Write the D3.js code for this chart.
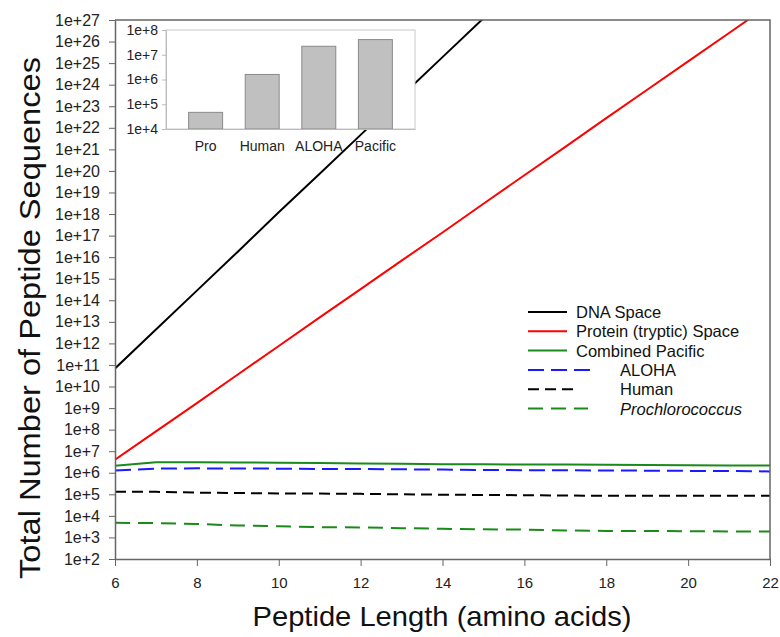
<!DOCTYPE html>
<html>
<head>
<meta charset="utf-8">
<script src="https://cdn.jsdelivr.net/npm/d3@7"></script>
<style>
  html, body { margin: 0; padding: 0; background: #fff; overflow: hidden; }
  svg { display: block; font-family: Arial, "Liberation Sans", sans-serif; }
  .tick text { font-family: Arial, "Liberation Sans", sans-serif; fill: #222; }
  .axis-y .tick text { font-size: 16px; }
  .axis-x .tick text { font-size: 15px; }
  .axis path, .axis line { stroke: #666; }
  .inset .tick text { font-size: 14px; }
  .inset path, .inset line { stroke: #bbb; }
</style>
</head>
<body>
<div id="chart"></div>
<script>
// peptide lengths (amino acids)
const lengths = [6, 7, 8, 9, 10, 11, 12, 13, 14, 15, 16, 17, 18, 19, 20, 21, 22];

// values, one per length
const dnaSpace = [6.9e10, 4.4e12, 2.8e14, 1.8e16, 1.2e18, 7.4e19, 4.7e21, 3.0e23, 1.9e25, 1.2e27];
const proteinSpace = [4.0e6, 8.3e7, 1.7e9, 3.6e10, 7.6e11, 1.6e13, 3.3e14, 6.9e15, 1.4e17, 3.0e18,
    6.3e19, 1.3e21, 2.8e22, 5.8e23, 1.2e25, 2.5e26, 5.2e27];
const combinedPacific = [2.1e6, 3.1e6, 3.1e6, 3.0e6, 2.9e6, 2.8e6, 2.7e6, 2.65e6, 2.5e6, 2.5e6,
    2.4e6, 2.4e6, 2.35e6, 2.3e6, 2.25e6, 2.2e6, 2.15e6];
const aloha = [1.26e6, 1.55e6, 1.6e6, 1.58e6, 1.55e6, 1.5e6, 1.48e6, 1.45e6, 1.4e6, 1.35e6,
    1.32e6, 1.3e6, 1.28e6, 1.25e6, 1.22e6, 1.2e6, 1.15e6];
const human = [1.32e5, 1.3e5, 1.2e5, 1.15e5, 1.1e5, 1.08e5, 1.05e5, 1.0e5, 9.6e4, 9.3e4,
    9.1e4, 8.8e4, 8.5e4, 8.5e4, 8.5e4, 8.5e4, 8.5e4];
const prochlorococcus = [4.8e3, 4.6e3, 4.2e3, 3.6e3, 3.3e3, 3.0e3, 2.9e3, 2.7e3, 2.5e3, 2.4e3,
    2.3e3, 2.1e3, 2.0e3, 2.0e3, 1.95e3, 1.9e3, 1.9e3];

// inset bar chart
const insetCategories = ["Pro", "Human", "ALOHA", "Pacific"];
const insetValues = [4.7e4, 1.6e6, 2.2e7, 4.1e7];

const xTicks = [6, 8, 10, 12, 14, 16, 18, 20, 22];
const yExponents = d3.range(2, 28);
const insetExponents = [4, 5, 6, 7, 8];

const width = 780, height = 637;
const margin = { top: 20, right: 10, bottom: 78, left: 115 };
const innerWidth = width - margin.left - margin.right;
const innerHeight = 559 - margin.top;

const series = [
    { name: "DNA Space", values: dnaSpace, color: "#000", dash: null },
    { name: "Protein (tryptic) Space", values: proteinSpace, color: "#f00", dash: null },
    { name: "Combined Pacific", values: combinedPacific, color: "#1a8a1a", dash: null },
    { name: "ALOHA", values: aloha, color: "#1a1aff", dash: "16,7", legendLen: 66 },
    { name: "Human", values: human, color: "#000", dash: "11,6", legendLen: 47 },
    { name: "Prochlorococcus", values: prochlorococcus, color: "#1a8a1a", dash: "15,8", legendLen: 60, italic: true }
];

const svg = d3.select("#chart")
    .append("svg")
    .attr("width", width)
    .attr("height", height);

const innerChart = svg.append("g")
    .attr("transform", `translate(${margin.left}, ${margin.top})`);

const xScale = d3.scaleLinear().domain([6, 22]).range([0, innerWidth]);
const yScale = d3.scaleLog().domain([1e2, 1e27]).range([innerHeight, 0]);

innerChart.append("clipPath")
    .attr("id", "plot-clip")
    .append("rect")
    .attr("width", innerWidth)
    .attr("height", innerHeight);

// lines
const line = d3.line()
    .x((d, i) => xScale(lengths[i]))
    .y(d => yScale(d));

innerChart.append("g")
    .attr("clip-path", "url(#plot-clip)")
    .selectAll("path")
    .data(series)
    .join("path")
    .attr("d", d => line(d.values))
    .attr("fill", "none")
    .attr("stroke", d => d.color)
    .attr("stroke-width", 2)
    .attr("stroke-dasharray", d => d.dash);

// frame (top and right)
innerChart.append("path")
    .attr("d", `M0,0H${innerWidth}V${innerHeight}`)
    .attr("fill", "none")
    .attr("stroke", "#666")
    .attr("stroke-width", 1.5);

// axes
const bottomAxis = d3.axisBottom(xScale)
    .tickValues(xTicks)
    .tickSize(7)
    .tickPadding(11)
    .tickSizeOuter(0);
innerChart.append("g")
    .attr("class", "axis axis-x")
    .attr("transform", `translate(0, ${innerHeight})`)
    .call(bottomAxis);

const leftAxis = d3.axisLeft(yScale)
    .tickValues(yExponents.map(e => Math.pow(10, e)))
    .tickFormat(d => "1e+" + Math.round(Math.log10(d)))
    .tickSize(6)
    .tickPadding(9)
    .tickSizeOuter(0);
innerChart.append("g")
    .attr("class", "axis axis-y")
    .call(leftAxis);

svg.selectAll(".axis .domain").attr("stroke-width", 1.5);

// axis titles
svg.append("text")
    .text("Peptide Length (amino acids)")
    .attr("x", 442)
    .attr("y", 626)
    .attr("text-anchor", "middle")
    .attr("font-size", 28)
    .attr("textLength", 379)
    .attr("lengthAdjust", "spacingAndGlyphs")
    .attr("fill", "#111");

svg.append("text")
    .text("Total Number of Peptide Sequences")
    .attr("transform", "translate(40, 318) rotate(-90)")
    .attr("text-anchor", "middle")
    .attr("font-size", 29)
    .attr("textLength", 522)
    .attr("lengthAdjust", "spacingAndGlyphs")
    .attr("fill", "#111");

// legend
const legend = svg.append("g")
    .attr("transform", "translate(528, 312)");

series.forEach((s, i) => {
    const g = legend.append("g").attr("transform", `translate(0, ${i * 19.3})`);
    g.append("line")
        .attr("x1", 0)
        .attr("x2", s.dash ? s.legendLen : 39)
        .attr("stroke", s.color)
        .attr("stroke-width", 2)
        .attr("stroke-dasharray", s.dash);
    g.append("text")
        .attr("x", s.dash ? 92 : 48)
        .attr("y", 6)
        .attr("font-size", 16.5)
        .attr("font-style", s.italic ? "italic" : null)
        .attr("fill", "#111")
        .text(s.name);
});

// inset bar chart
const inset = svg.append("g")
    .attr("class", "inset")
    .attr("transform", "translate(166, 30)");
const insetW = 249, insetH = 99;

const xInset = d3.scaleBand()
    .domain(insetCategories)
    .range([0, insetW])
    .paddingInner(0.4)
    .paddingOuter(0.4);
const yInset = d3.scaleLog().domain([1e4, 1e8]).range([insetH, 0]);

inset.append("rect")
    .attr("width", insetW)
    .attr("height", insetH)
    .attr("fill", "#fff")
    .attr("stroke", "#c8c8c8");

inset.selectAll(".bar")
    .data(insetValues)
    .join("rect")
    .attr("class", "bar")
    .attr("x", (d, i) => xInset(insetCategories[i]))
    .attr("y", d => yInset(d))
    .attr("width", xInset.bandwidth())
    .attr("height", d => insetH - yInset(d))
    .attr("fill", "#c0c0c0")
    .attr("stroke", "#8a8a8a");

inset.append("g")
    .call(d3.axisLeft(yInset)
        .tickValues(insetExponents.map(e => Math.pow(10, e)))
        .tickFormat(d => "1e+" + Math.round(Math.log10(d)))
        .tickSize(4)
        .tickPadding(4)
        .tickSizeOuter(0));

inset.append("g")
    .attr("transform", `translate(0, ${insetH})`)
    .call(d3.axisBottom(xInset).tickSize(0).tickPadding(12).tickSizeOuter(0));
</script>
</body>
</html>
